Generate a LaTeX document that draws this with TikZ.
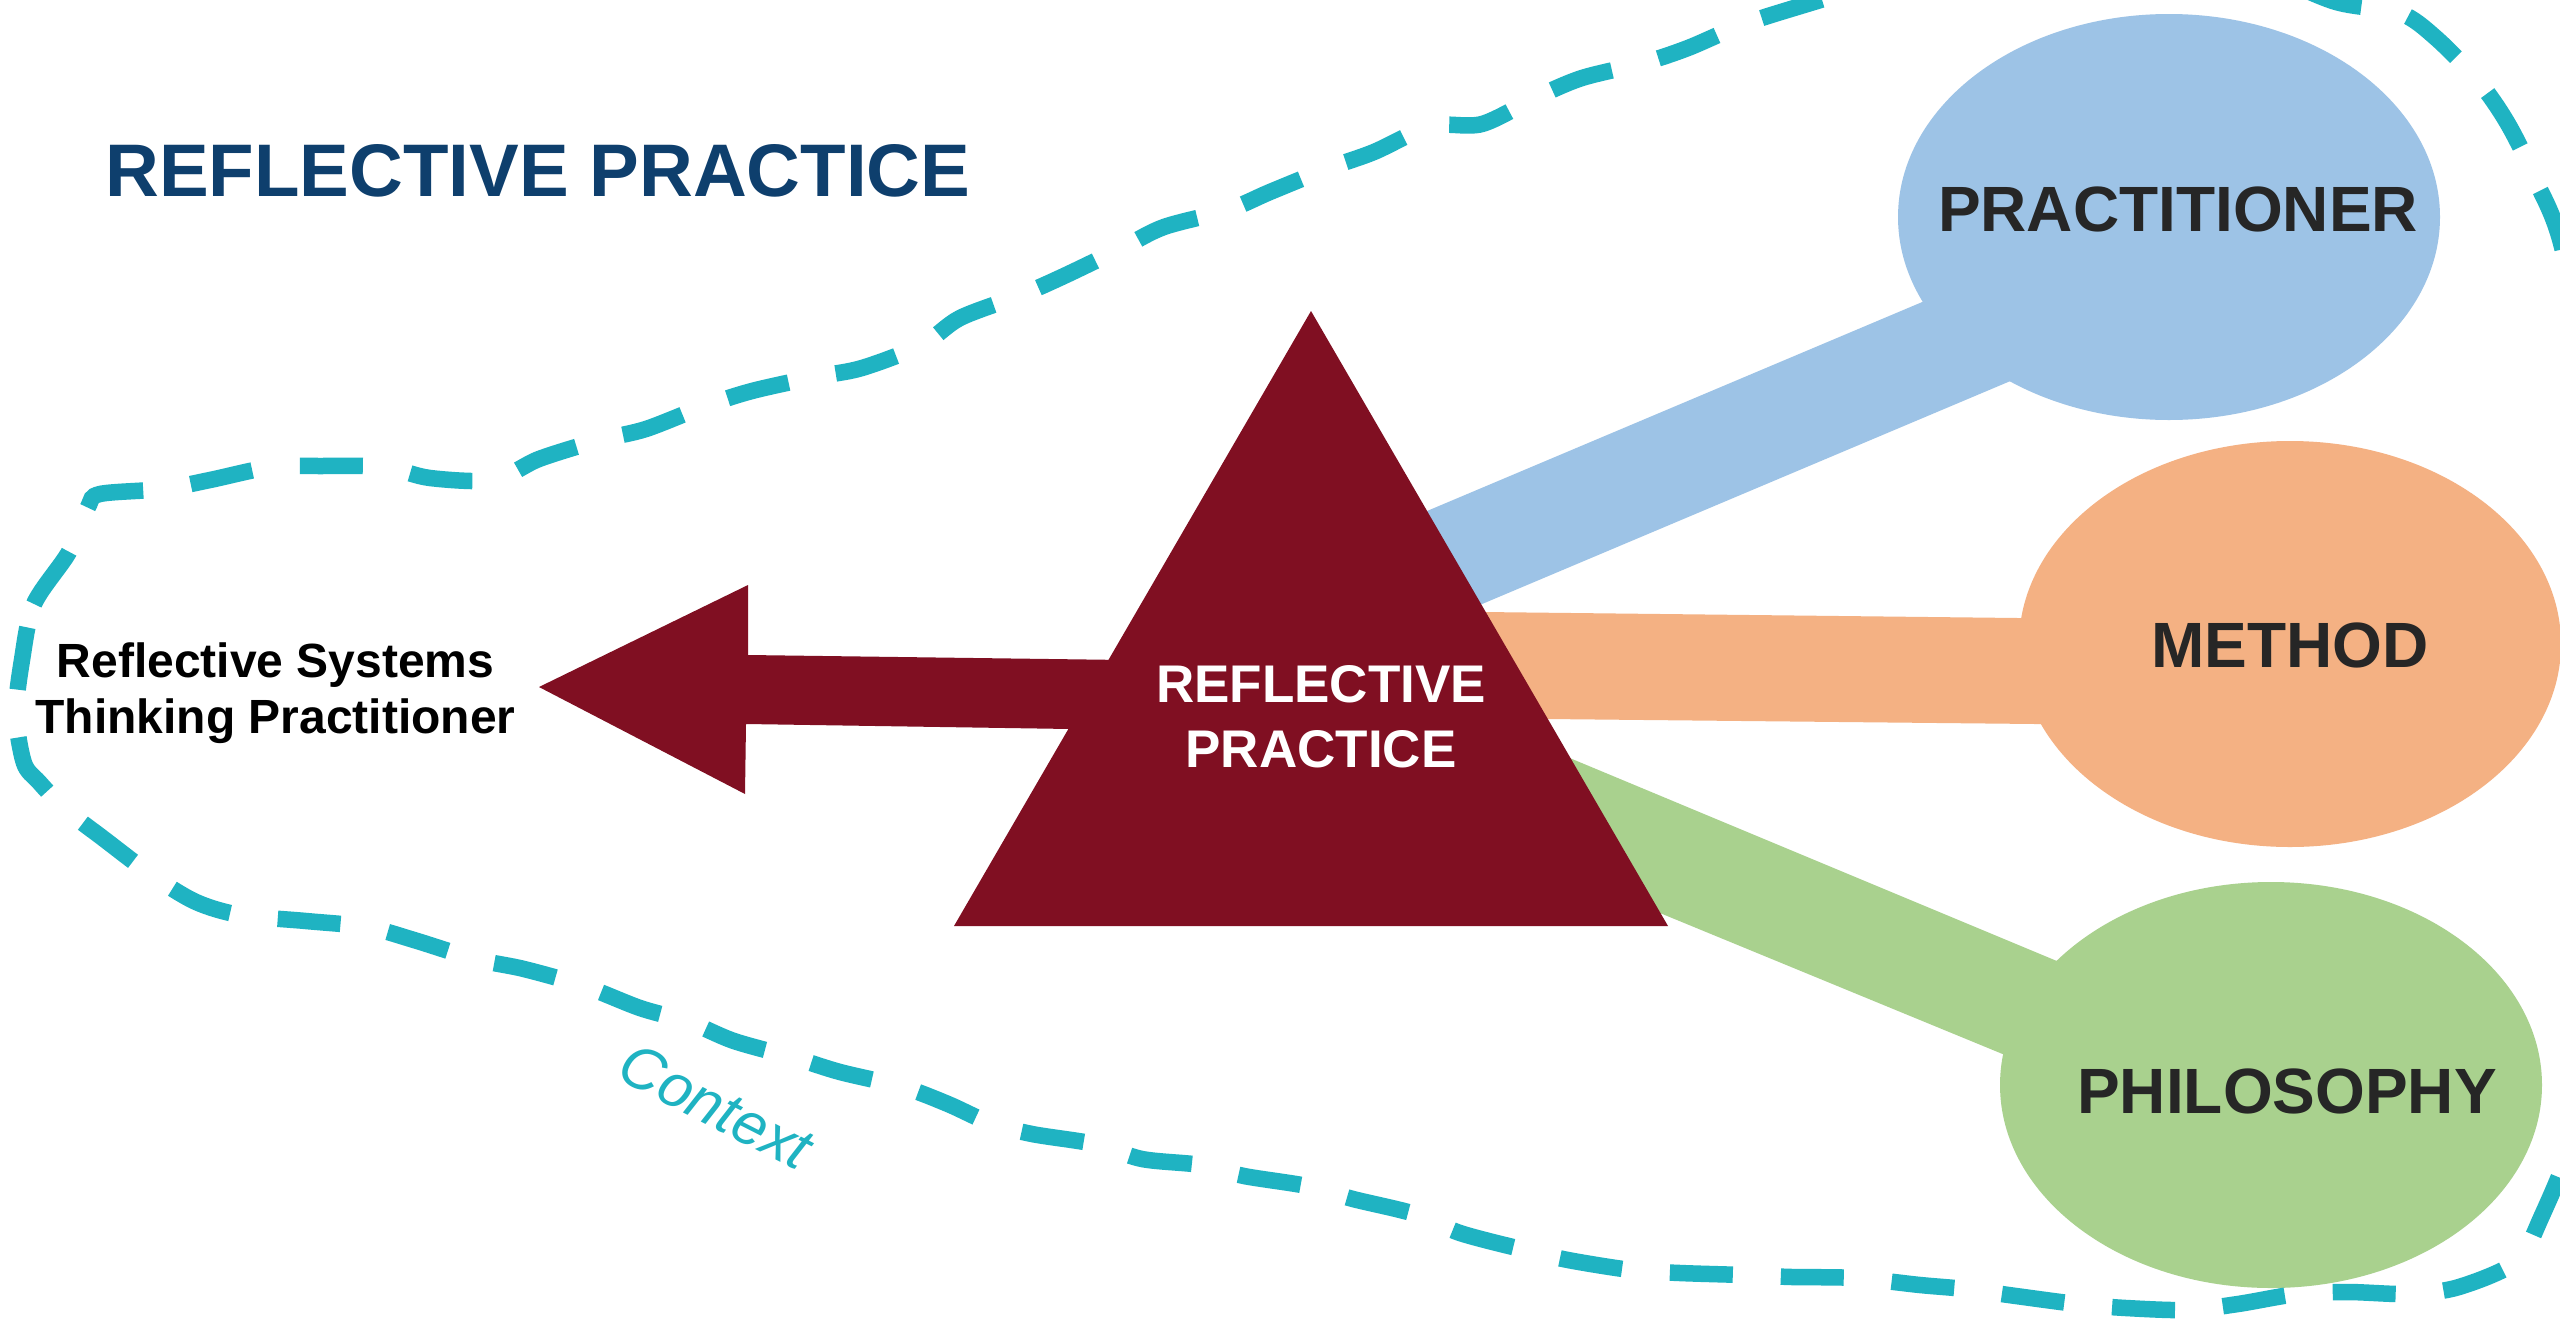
\documentclass[tikz,border=0pt]{standalone}
\usepackage{fontspec}
\setmainfont{Liberation Sans}
\usetikzlibrary{shapes.geometric}
\definecolor{titleblue}{HTML}{0E3F6D}
\definecolor{tri}{HTML}{800F22}
\definecolor{teal}{HTML}{1FB3C2}
\definecolor{pblue}{HTML}{9DC3E6}
\definecolor{porange}{HTML}{F4B183}
\definecolor{pgreen}{HTML}{A9D18E}
\definecolor{dtext}{HTML}{262626}
\begin{document}
\begin{tikzpicture}[x=1pt,y=-1pt,
  blob/.style={ellipse, inner sep=0pt, minimum width=542pt, minimum height=406pt},
  bigword/.style={anchor=base, inner sep=0pt, text=dtext, font=\fontsize{64}{70}\selectfont\bfseries},
  twoline/.style={anchor=base, inner sep=0pt},
  context/.style={draw=teal, line width=16.5pt, dash pattern=on 63pt off 48pt}]
\useasboundingbox (0,0) rectangle (2560,1320);
\fill[white] (0,0) rectangle (2560,1320);
\clip (0,0) rectangle (2560,1320);

% ellipses
\node[blob, fill=pblue] (prac) at (2169,217) {};
\node[blob, fill=porange] (meth) at (2290,644) {};
\node[blob, fill=pgreen] (phil) at (2271,1085) {};

% bars
\fill[pblue] (1350,543.5) -- (2150,205.9) -- (2150,322.1) -- (1420,630.2) -- cycle;
\fill[porange] (1420,611.3) -- (2250,620.6) -- (2250,726.2) -- (1420,717.7) -- cycle;
\fill[pgreen] (1460,712.3) -- (2250,1041.5) -- (2250,1155.8) -- (1560,871.9) -- cycle;

% arrow
\fill[tri] (539,687) -- (748,585) -- (748,655) -- (1200,661) -- (1200,731) -- (746,724) -- (745,794) -- cycle;
% triangle
\coordinate (apex) at (1311,311);
\coordinate (bl) at (954,926);
\coordinate (br) at (1668,926);
\fill[tri] (apex) -- (br) -- (bl) -- cycle;

% texts
\node[anchor=base, inner sep=0pt, text=titleblue, font=\fontsize{74.5}{80}\selectfont\bfseries] (title) at (538,196) {REFLECTIVE PRACTICE};
\node[bigword] (tprac) at (2178,231) {PRACTITIONER};
\node[bigword] (tmeth) at (2290,667) {METHOD};
\node[bigword] (tphil) at (2287,1113) {PHILOSOPHY};
\node[twoline, text=white] (rp) at (1321,702)
  {\fontsize{53}{65}\selectfont\bfseries\begin{tabular}[t]{@{}c@{}}REFLECTIVE\\PRACTICE\end{tabular}};
\node[twoline, text=black] (rst) at (275.5,677)
  {\fontsize{48}{56}\selectfont\bfseries\begin{tabular}[t]{@{}c@{}}Reflective Systems\\Thinking Practitioner\end{tabular}};
\node[inner sep=0pt, text=teal, rotate=-27, font=\fontsize{60}{64}\selectfont\itshape] (ctx) at (716,1106) {Context};

% dashed context loop
\draw[context] plot[smooth cycle, tension=0.5] coordinates {
 (22,660) (34,604) (69,552) (88,507) (100,494) (163,489) (210,480) (271,467)
 (320,466) (384,467) (430,478) (494,480) (539,459) (600,440) (646,429) (705,406)
 (752,391) (815,377) (862,368) (922,345) (960,318) (1021,295) (1064,276) (1122,248)
 (1164,227) (1228,210) (1270,192) (1329,168) (1374,152) (1431,126) (1482,124) (1537,97)
 (1582,78) (1643,63) (1688,48) (1747,23) (1827,-2) (1950,-40) (2100,-55) (2250,-30)
 (2336,2) (2400,13) (2436,38) (2479,82) (2508,124) (2534,177) (2565,260) (2600,500)
 (2610,750) (2595,1000) (2575,1130) (2540,1220) (2516,1262) (2459,1287) (2410,1294) (2348,1292)
 (2297,1294) (2238,1304) (2187,1310) (2126,1308) (2077,1304) (2016,1296) (1965,1289) (1920,1285)
 (1855,1278) (1792,1277) (1743,1275) (1680,1273) (1631,1270) (1568,1260) (1521,1249) (1460,1233)
 (1415,1214) (1353,1199) (1307,1186) (1244,1176) (1201,1165) (1142,1159) (1095,1144) (1032,1134)
 (990,1123) (948,1104) (903,1087) (840,1072) (795,1058) (734,1041) (689,1022) (640,1008)
 (584,986) (524,969) (475,959) (414,940) (367,927) (306,921) (240,915) (196,902)
 (153,876) (104,839) (65,809) (39,782) (24,763) (16,714)};
\end{tikzpicture}
\end{document}
